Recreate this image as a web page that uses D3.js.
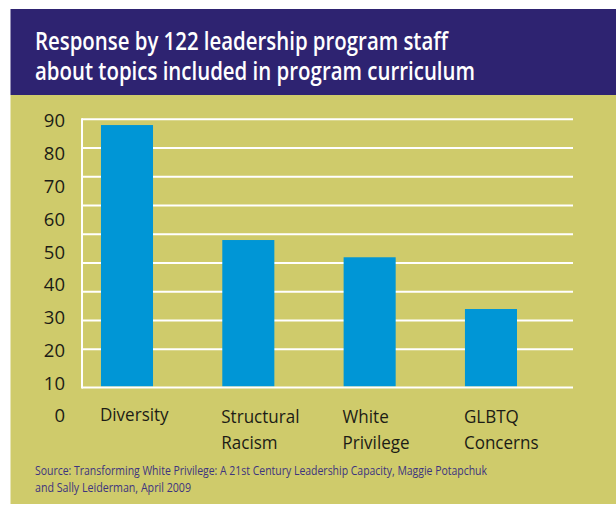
<!DOCTYPE html>
<html>
<head>
<meta charset="utf-8">
<script src="https://cdn.jsdelivr.net/npm/d3@7"></script>
<style>
  html, body { margin: 0; padding: 0; background: #fff; }
  svg { display: block; }
</style>
</head>
<body>
<div id="chart"></div>
<script>
// chart data
const categories = ['Diversity', 'Structural Racism', 'White Privilege', 'GLBTQ Concerns'];
const values = [88, 48, 42, 24];
const gridValues = [10, 20, 30, 40, 50, 60, 70, 80, 90];
const tickLabels = [0, 10, 20, 30, 40, 50, 60, 70, 80, 90];
const titleLines = ['Response by 122 leadership program staff', 'about topics included in program curriculum'];
const sourceLines = ['Source: Transforming White Privilege: A 21st Century Leadership Capacity, Maggie Potapchuk',
                     'and Sally Leiderman, April 2009'];

const W = 616, H = 505;
const colors = { band: '#2e2371', panel: '#cfcb6b', bar: '#0096d6', grid: '#ffffff', text: '#1c1c16', source: '#3d3480' };
const labelFont = 'Open Sans, sans-serif';

const svg = d3.select('#chart').append('svg')
    .attr('width', W)
    .attr('height', H);

// background panels
svg.append('rect').attr('x', 10.5).attr('y', 9).attr('width', W - 10.5).attr('height', 86).attr('fill', colors.band);
svg.append('rect').attr('x', 10.5).attr('y', 95).attr('width', W - 10.5).attr('height', 409).attr('fill', colors.panel);

// title
const title = svg.append('g').attr('font-family', labelFont).attr('font-weight', 600)
    .attr('font-size', 24.5).attr('fill', '#fff');
title.selectAll('text').data(titleLines).join('text')
    .attr('x', 35)
    .attr('y', (d, i) => 50 + i * 30)
    .attr('textLength', (d, i) => i === 0 ? 413 : 440)
    .attr('lengthAdjust', 'spacingAndGlyphs')
    .text(d => d);

// scales
const plotLeft = 82, plotRight = 573, floorY = 387.5;
const x = d3.scaleBand()
    .domain(categories)
    .range([plotLeft, plotRight])
    .paddingInner(0.571)
    .paddingOuter(0.309)
    .align(0.253);

const y = d3.scaleLinear().domain([0, 90]).range([378, 119.3]);
// the y labels in the original are spaced on their own rhythm
const yLabel = d3.scaleLinear().domain([0, 90]).range([416, 121]);

// grid lines
const grid = svg.append('g').attr('stroke', colors.grid).attr('stroke-width', 2);
grid.selectAll('line.h').data(gridValues).join('line')
    .attr('class', 'h')
    .attr('x1', plotLeft).attr('x2', plotRight)
    .attr('y1', d => y(d)).attr('y2', d => y(d));

// bars
svg.append('g').selectAll('rect').data(values).join('rect')
    .attr('x', (d, i) => x(categories[i]))
    .attr('y', d => y(d))
    .attr('width', x.bandwidth())
    .attr('height', d => floorY - 1 - y(d))
    .attr('fill', colors.bar);

// floor and left edge
svg.append('line').attr('x1', plotLeft).attr('x2', plotRight).attr('y1', floorY).attr('y2', floorY)
    .attr('stroke', colors.grid).attr('stroke-width', 2);
svg.append('line').attr('x1', plotLeft).attr('x2', plotLeft).attr('y1', y(90) - 1).attr('y2', floorY + 1)
    .attr('stroke', colors.grid).attr('stroke-width', 2);

// y labels
const yAxis = svg.append('g')
    .attr('transform', 'translate(65,0)')
    .call(d3.axisLeft(yLabel).tickValues(tickLabels).tickSize(0).tickPadding(0));
yAxis.select('.domain').remove();
yAxis.selectAll('text')
    .attr('font-family', labelFont)
    .attr('font-size', 18.5)
    .attr('fill', colors.text);

// x labels, split over two lines, a touch narrower than Open Sans
const xLabels = svg.append('g')
    .attr('font-family', labelFont)
    .attr('font-size', 18.5)
    .attr('fill', colors.text);
categories.forEach((c, i) => {
    const words = c.split(' ');
    const t = xLabels.append('text')
        .attr('y', words.length === 1 ? 421 : 423);
    words.forEach((w, j) => {
        const span = t.append('tspan')
            .attr('x', x(c) - 1)
            .attr('dy', j === 0 ? 0 : 26)
            .text(w);
        const natural = span.node().getComputedTextLength();
        span.attr('textLength', natural * 0.92).attr('lengthAdjust', 'spacingAndGlyphs');
    });
});

// source
svg.append('g')
    .attr('font-family', labelFont)
    .attr('font-size', 13)
    .attr('fill', colors.source)
    .selectAll('text').data(sourceLines).join('text')
    .attr('x', 35)
    .attr('y', (d, i) => 475 + i * 17)
    .attr('textLength', (d, i) => i === 0 ? 452 : 156)
    .attr('lengthAdjust', 'spacingAndGlyphs')
    .text(d => d);
</script>
</body>
</html>
